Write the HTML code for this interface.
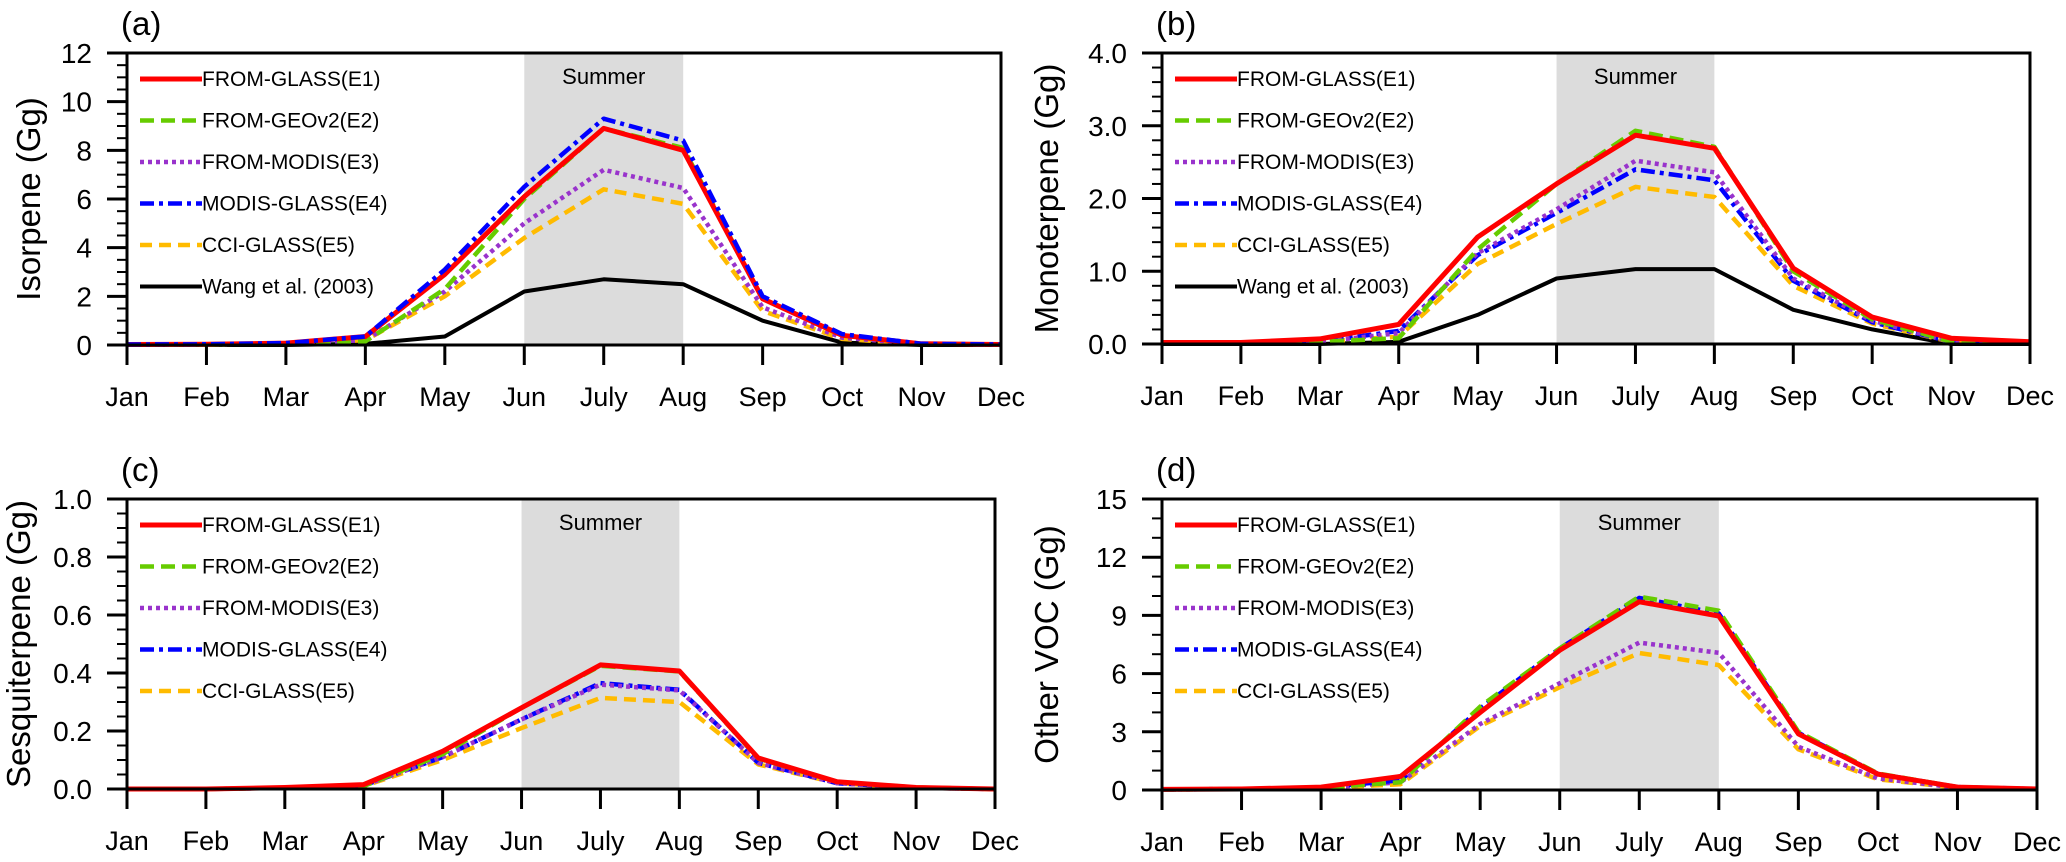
<!DOCTYPE html>
<html><head><meta charset="utf-8"><style>
html,body{margin:0;padding:0;background:#fff;}
svg{display:block;font-family:"Liberation Sans",sans-serif;}
</style></head>
<body>
<svg id="chart" width="2066" height="862" viewBox="0 0 2066 862" xmlns="http://www.w3.org/2000/svg"></svg>
<script>
const months = ["Jan","Feb","Mar","Apr","May","Jun","July","Aug","Sep","Oct","Nov","Dec"];
const seriesNames = ["FROM-GLASS(E1)","FROM-GEOv2(E2)","FROM-MODIS(E3)","MODIS-GLASS(E4)","CCI-GLASS(E5)","Wang et al. (2003)"];
// Panel (a) Isoprene
const isoE1 = [0.02,0.03,0.08,0.35,2.9,6.1,8.9,8.0,1.9,0.4,0.05,0.02];
const isoE2 = [0.02,0.02,0.05,0.15,2.3,6.0,8.9,8.1,1.9,0.4,0.05,0.02];
const isoE3 = [0.02,0.02,0.05,0.2,2.2,5.0,7.2,6.45,1.55,0.3,0.04,0.02];
const isoE4 = [0.02,0.03,0.08,0.35,3.1,6.5,9.3,8.4,2.0,0.45,0.05,0.02];
const isoE5 = [0.02,0.02,0.05,0.2,2.0,4.4,6.4,5.8,1.4,0.25,0.04,0.02];
const isoWang = [0,0,0,0.05,0.35,2.2,2.7,2.5,1.0,0.1,0,0];
// Panel (b) Monoterpene
const monoE1 = [0.02,0.02,0.07,0.27,1.47,2.2,2.87,2.69,1.04,0.37,0.08,0.03];
const monoE2 = [0.01,0.01,0.03,0.08,1.3,2.2,2.93,2.71,1.0,0.34,0.03,0.01];
const monoE3 = [0.01,0.01,0.03,0.15,1.25,1.85,2.52,2.36,0.9,0.32,0.03,0.01];
const monoE4 = [0.01,0.01,0.03,0.18,1.22,1.8,2.4,2.25,0.87,0.3,0.03,0.01];
const monoE5 = [0.01,0.01,0.03,0.1,1.1,1.65,2.16,2.02,0.8,0.28,0.03,0.01];
const monoWang = [0,0,0,0.03,0.4,0.9,1.03,1.03,0.47,0.2,0,0];
// Panel (c) Sesquiterpene
const sesqE1 = [0,0,0.005,0.015,0.13,0.28,0.428,0.407,0.107,0.025,0.005,0];
const sesqE2 = [0,0,0.004,0.01,0.12,0.28,0.425,0.405,0.105,0.024,0.005,0];
const sesqE3 = [0,0,0.004,0.012,0.11,0.24,0.36,0.34,0.09,0.02,0.004,0];
const sesqE4 = [0,0,0.004,0.012,0.11,0.24,0.365,0.342,0.09,0.02,0.004,0];
const sesqE5 = [0,0,0.004,0.01,0.10,0.21,0.314,0.30,0.085,0.02,0.004,0];
// Panel (d) Other VOC
const ovocE1 = [0.03,0.05,0.15,0.7,4.0,7.2,9.7,8.97,2.89,0.82,0.15,0.05];
const ovocE2 = [0.03,0.05,0.12,0.4,4.3,7.3,9.97,9.24,3.0,0.85,0.15,0.05];
const ovocE3 = [0.03,0.04,0.1,0.4,3.4,5.5,7.6,7.07,2.23,0.6,0.12,0.04];
const ovocE4 = [0.03,0.05,0.13,0.5,4.2,7.3,9.9,9.1,2.95,0.83,0.15,0.05];
const ovocE5 = [0.03,0.04,0.1,0.3,3.3,5.3,7.06,6.44,2.1,0.55,0.12,0.04];
// Axis ticks
const isoTicks = [0,2,4,6,8,10,12];
const monoTicks = ["0.0","1.0","2.0","3.0","4.0"];
const sesqTicks = ["0.0","0.2","0.4","0.6","0.8","1.0"];
const ovocTicks = [0,3,6,9,12,15];

const NS = "http://www.w3.org/2000/svg";
const svg = document.getElementById("chart");
function mk(tag, attrs, parent){
  const e = document.createElementNS(NS, tag);
  for (const k in attrs) e.setAttribute(k, attrs[k]);
  (parent||svg).appendChild(e);
  return e;
}
const styles = [
  {color:"#ff0000", dash:"", w:5},
  {color:"#66cc00", dash:"14,7", w:4.5},
  {color:"#9933cc", dash:"4,4", w:4.5},
  {color:"#0000ff", dash:"14,5,4,5", w:4.5},
  {color:"#ffbb00", dash:"12,7", w:4.5},
  {color:"#000000", dash:"", w:4}
];

function panel(cfg){
  const g = mk("g", {});
  
  
  const L=cfg.x0, R=cfg.x1, T=cfg.y0, B=cfg.y1;
  const xs = i => L + (R-L)*i/11;
  const ys = v => B - (B-T)*v/cfg.ymax;
  const band = mk("rect", {x:xs(5), y:T, width:xs(7)-xs(5), height:B-T, fill:"#dcdcdc"}, g);
  
  
  const st = mk("text", {x:xs(6), y:T+31, "font-size":22, "text-anchor":"middle", fill:"#000"}, g);
  st.textContent = "Summer";
  
  
  cfg.order.forEach(si => {
    const vals = cfg.series[si];
    if (!vals) return;
    const s = styles[si];
    const pts = vals.map((v,i)=>xs(i).toFixed(1)+","+ys(v).toFixed(1)).join(" ");
    const pl = mk("polyline", {points:pts, fill:"none", stroke:s.color, "stroke-width":s.w, "stroke-dasharray":s.dash, "stroke-linejoin":"round"}, g);
    
    
  });
  const fr = mk("rect", {x:L, y:T, width:R-L, height:B-T, fill:"none", stroke:"#000", "stroke-width":3}, g);
  
  
  const nMaj = cfg.yticks.length;
  const step = cfg.ymax/(nMaj-1);
  for (let k=0;k<nMaj;k++){
    const v = k*step, y = ys(v);
    mk("line", {x1:L-20, x2:L, y1:y, y2:y, stroke:"#000", "stroke-width":3}, g);
    const t = mk("text", {x:L-35, y:y+10, "font-size":28, "text-anchor":"end", fill:"#000"}, g);
    t.textContent = cfg.yticks[k];
    
    
    if (k<nMaj-1){
      for (let m=1;m<cfg.minor;m++){
        const ym = ys(v + step*m/cfg.minor);
        mk("line", {x1:L-10, x2:L, y1:ym, y2:ym, stroke:"#000", "stroke-width":2}, g);
      }
    }
  }
  months.forEach((mName,i)=>{
    mk("line", {x1:xs(i), x2:xs(i), y1:B, y2:B+20, stroke:"#000", "stroke-width":3}, g);
    const t = mk("text", {x:xs(i), y:B+61, "font-size":27, "text-anchor":"middle", fill:"#000"}, g);
    t.textContent = mName;
    
    
  });
  const yt = mk("text", {x:0, y:0, "font-size":33, "text-anchor":"middle", fill:"#000", transform:"translate("+(cfg.titleX)+","+((T+B)/2)+") rotate(-90)"}, g);
  yt.textContent = cfg.ytitle;
  
  
  const pl = mk("text", {x:L-6, y:T-18, "font-size":33, fill:"#000"}, g);
  pl.textContent = cfg.label;
  
  
  let row = 0;
  for (let si=0; si<6; si++){
    if (!cfg.series[si]) continue;
    const y = T + 26 + row*41.5;
    const s = styles[si];
    const lg = mk("g", {}, g);
    
    
    mk("line", {x1:L+13, x2:L+75, y1:y, y2:y, stroke:s.color, "stroke-width":s.w, "stroke-dasharray":s.dash}, lg);
    const tx = mk("text", {x:L+75, y:y+7, "font-size":21, fill:"#000"}, lg);
    tx.textContent = seriesNames[si];
    row++;
  }
}

panel({name:"panel-a-isoprene", x0:127, x1:1001, y0:53, y1:345, ymax:12, yticks:isoTicks, minor:4,
  ytitle:"Isorpene (Gg)", titleX:40, label:"(a)",
  series:[isoE1,isoE2,isoE3,isoE4,isoE5,isoWang], order:[5,4,2,1,0,3]});
panel({name:"panel-b-monoterpene", x0:1162, x1:2030, y0:53, y1:344, ymax:4, yticks:monoTicks, minor:5,
  ytitle:"Monoterpene (Gg)", titleX:1058, label:"(b)",
  series:[monoE1,monoE2,monoE3,monoE4,monoE5,monoWang], order:[5,4,3,2,1,0]});
panel({name:"panel-c-sesquiterpene", x0:127, x1:995, y0:499, y1:789, ymax:1, yticks:sesqTicks, minor:4,
  ytitle:"Sesquiterpene (Gg)", titleX:30, label:"(c)",
  series:[sesqE1,sesqE2,sesqE3,sesqE4,sesqE5,null], order:[4,3,2,1,0]});
panel({name:"panel-d-other-voc", x0:1162, x1:2037, y0:499, y1:790, ymax:15, yticks:ovocTicks, minor:3,
  ytitle:"Other VOC (Gg)", titleX:1058, label:"(d)",
  series:[ovocE1,ovocE2,ovocE3,ovocE4,ovocE5,null], order:[4,2,3,1,0]});
</script>
</body></html>
